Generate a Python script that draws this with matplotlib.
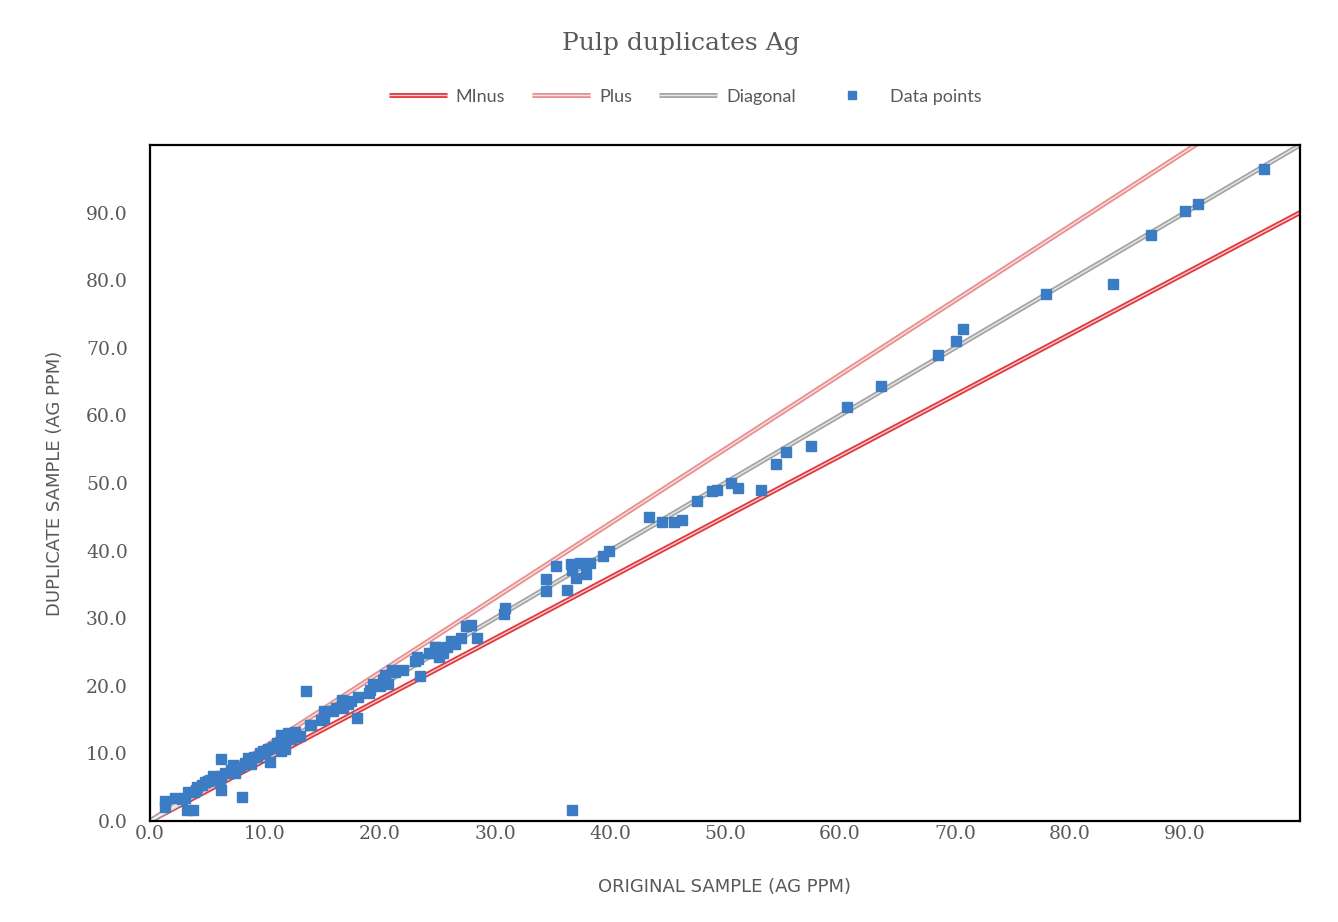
import numpy as np
import matplotlib
matplotlib.use('Agg')
import matplotlib.pyplot as plt
from matplotlib.lines import Line2D

# --- data ------------------------------------------------------------------
original = [
    1.3, 1.3, 3.2, 3.7, 8.0, 6.2, 6.2, 3.0, 2.8, 3.3, 3.8, 4.1, 4.5, 4.8, 5.2,
    5.5, 5.8, 6.2, 6.5, 6.1, 7.0, 7.2, 7.4, 7.8, 8.3, 8.5, 8.8, 9.3, 9.6, 9.8,
    10.3, 10.4, 10.7, 11.0, 11.4, 11.3, 11.7, 12.0, 12.3, 12.6, 11.4, 11.7, 14.0,
    13.6, 12.5, 13.9, 14.9, 15.1, 15.1, 15.9, 16.2, 16.8, 16.7, 16.9, 17.5, 18.0,
    18.1, 19.0, 19.1, 19.4, 20.0, 20.7, 20.3, 20.4, 21.0, 21.3, 23.5, 23.0, 23.3,
    24.3, 24.8, 25.3, 23.2, 24.6, 25.1, 24.9, 25.5, 25.8, 26.2, 27.0, 28.4, 27.5,
    27.9, 30.8, 30.9, 34.4, 34.4, 36.3, 35.3, 37.0, 37.9, 36.7, 36.6, 37.4, 38.3,
    39.4, 39.9, 36.7, 43.4, 44.5, 45.6, 46.3, 47.6, 48.9, 49.3, 50.5, 51.1, 53.1,
    54.4, 55.3, 57.5, 60.6, 63.6, 68.5, 70.1, 70.7, 77.9, 83.7, 87.0, 90.0, 91.1,
    96.9, 2.2, 4.0, 5.0, 9.0, 10.0, 13.0, 17.2, 22.0, 26.5,
]
duplicate = [
    3.0, 2.0, 1.6, 1.6, 3.5, 9.1, 4.6, 3.4, 3.2, 4.3, 4.3, 5.1, 5.3, 5.7, 6.1,
    6.7, 6.2, 6.6, 7.1, 5.7, 7.5, 8.3, 7.1, 8.0, 8.6, 9.3, 8.5, 9.5, 10.0, 10.3,
    10.6, 8.8, 11.0, 11.5, 12.7, 11.0, 12.0, 13.0, 12.2, 13.2, 10.3, 10.6, 14.2,
    19.3, 12.5, 14.2, 14.9, 16.2, 15.2, 16.2, 16.7, 16.7, 17.9, 17.7, 17.7, 15.2,
    18.4, 18.9, 19.4, 20.3, 19.9, 20.3, 20.9, 21.6, 22.4, 22.1, 21.5, 23.7, 23.9,
    24.9, 25.7, 24.8, 24.2, 24.9, 24.3, 25.8, 24.9, 25.8, 26.7, 27.0, 27.1, 28.8,
    29.0, 30.6, 31.5, 34.0, 35.8, 34.2, 37.7, 35.9, 36.5, 37.2, 38.0, 38.1, 38.2,
    39.2, 40.0, 1.6, 45.0, 44.3, 44.2, 44.6, 47.4, 48.8, 49.0, 50.0, 49.3, 49.0,
    52.8, 54.6, 55.5, 61.3, 64.4, 69.0, 71.0, 72.8, 77.9, 79.5, 86.7, 90.3, 91.2,
    96.4, 3.4, 4.6, 5.9, 9.4, 10.4, 12.6, 17.3, 22.3, 26.2,
]

ticks = [0, 10, 20, 30, 40, 50, 60, 70, 80, 90]
line_x = [0, 100]
minus_factor = 0.9
plus_factor = 1.1

MINUS_C = '#E0393E'
PLUS_C = '#E88F8F'
DIAG_C = '#A5A5A5'
POINT_C = '#3B7CC4'
TEXT_C = '#595959'

fig = plt.figure(figsize=(13.38, 9.22), dpi=100)
ax = fig.add_axes([150 / 1338, 1 - 821 / 922, 1150 / 1338, 676 / 922])


def double_line(x, y, color, z):
    ax.plot(x, y, color=color, lw=3.6, solid_capstyle='butt', zorder=z)
    ax.plot(x, y, color='white', lw=1.0, alpha=0.75, solid_capstyle='butt', zorder=z + 0.1)


lx = np.array(line_x, dtype=float)
double_line(lx, lx * minus_factor, MINUS_C, 2)
double_line(lx, lx * plus_factor, PLUS_C, 2)
double_line(lx, lx, DIAG_C, 2)
ax.plot(original, duplicate, linestyle='none', marker='s', ms=7.2,
        color=POINT_C, mec=POINT_C, zorder=4)

ax.set_xlim(0, 100)
ax.set_ylim(0, 100)
ax.set_xticks(ticks)
ax.set_yticks(ticks)
ax.set_xticklabels([f'{t:.1f}' for t in ticks])
ax.set_yticklabels([f'{t:.1f}' for t in ticks])
for lab in ax.get_xticklabels() + ax.get_yticklabels():
    lab.set_fontfamily('DejaVu Serif')
    lab.set_fontsize(13.5)
    lab.set_color(TEXT_C)
ax.tick_params(axis='both', length=0)
ax.tick_params(axis='x', pad=3)
ax.tick_params(axis='y', pad=16)
for s in ax.spines.values():
    s.set_linewidth(1.6)
    s.set_color('black')

label_font = dict(family=['Liberation Sans Narrow', 'DejaVu Sans'], size=13, color=TEXT_C)
ax.set_xlabel('ORIGINAL SAMPLE (AG PPM)', labelpad=25, **label_font)
ax.set_ylabel('DUPLICATE SAMPLE (AG PPM)', labelpad=16, **label_font)

fig.text(0.509, 0.953, 'Pulp duplicates Ag', ha='center', va='center',
         family='DejaVu Serif', size=18, color=TEXT_C)


def leg_handle(color):
    return (Line2D([], [], color=color, lw=3.6, solid_capstyle='butt'),
            Line2D([], [], color='white', lw=1.0, alpha=0.75, solid_capstyle='butt'))


handles = [leg_handle(MINUS_C), leg_handle(PLUS_C), leg_handle(DIAG_C),
           Line2D([], [], linestyle='none', marker='s', ms=6, color=POINT_C)]
labels = ['MInus', 'Plus', 'Diagonal', 'Data points']
leg = fig.legend(handles, labels, loc='center', bbox_to_anchor=(0.512, 0.895),
                 ncol=4, frameon=False, handlelength=3.2, columnspacing=1.5,
                 handletextpad=0.5, prop={'family': 'Lato', 'size': 13})
for t in leg.get_texts():
    t.set_color(TEXT_C)

fig.savefig('out.png', dpi=100)
